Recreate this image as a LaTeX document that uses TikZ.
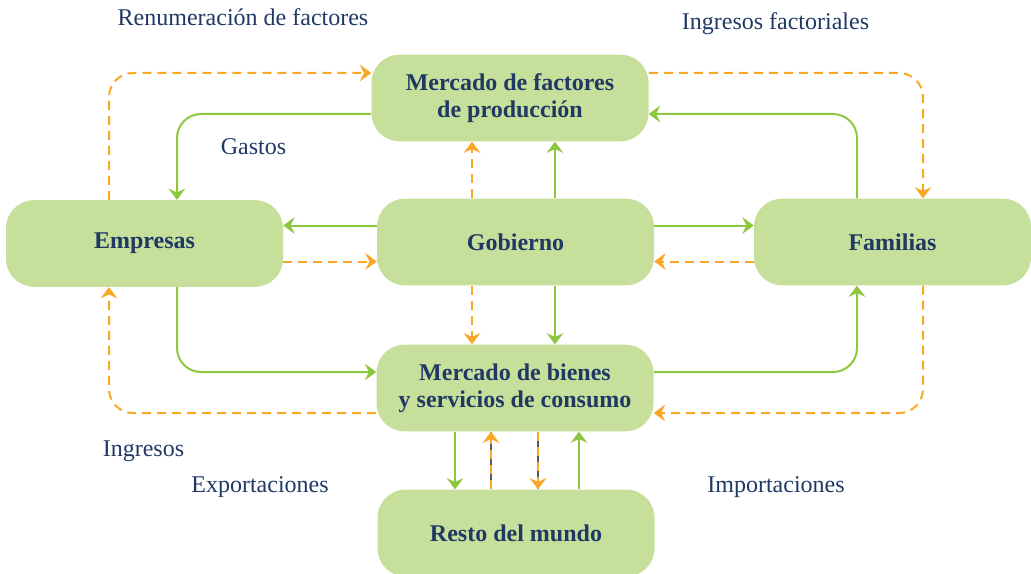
\documentclass[tikz,border=0pt]{standalone}
\usepackage{fontspec}
\setmainfont{Liberation Serif}
\usetikzlibrary{arrows.meta,calc}
\definecolor{boxfill}{HTML}{C6E09C}
\definecolor{gline}{HTML}{8DC63F}
\definecolor{oline}{HTML}{F9A825}
\definecolor{navy}{HTML}{1F3864}
\definecolor{grayline}{HTML}{5A5A5A}
\begin{document}
\begin{tikzpicture}[x=0.75pt,y=-0.75pt,
  box/.style={rectangle, rounded corners=21pt, fill=boxfill, minimum width=207.75pt, minimum height=65pt, inner sep=0pt, align=center, font=\fontsize{18}{20.5}\selectfont\bfseries, text=navy},
  lbl/.style={anchor=base, font=\fontsize{18}{20}\selectfont, text=navy, inner sep=0pt},
  tip/.style={-{Stealth[length=8.5pt,width=12.5pt,inset=3pt]}},
  garr/.style={tip, draw=gline, line width=1.5pt, rounded corners=18pt},
  oarr/.style={tip, draw=oline, line width=1.5pt, dash pattern=on 6.75pt off 4.5pt, rounded corners=18pt},
  grayln/.style={draw=grayline, line width=1.1pt}]
\useasboundingbox (0,0) rectangle (1031,574);
% boxes
\node[box] (fac) at (510,98) {Mercado de factores\\de producción};
\node[box] (emp) at (144.5,243.5) {Empresas};
\node[box] (gob) at (515.5,242) {Gobierno};
\node[box] (fam) at (892.5,242) {Familias};
\node[box] (bie) at (515,388) {Mercado de bienes\\y servicios de consumo};
\node[box] (res) at (516,533) {Resto del mundo};
% Gobierno side connectors
\draw[garr] ($(gob.west)+(0,-16.5)$) -- ($(emp.east)+(0,-18)$);
\draw[oarr] ($(emp.east)+(0,18)$) -- ($(gob.west)+(0,19.5)$);
\draw[garr] ($(gob.east)+(0,-16.5)$) -- ($(fam.west)+(0,-16.5)$);
\draw[oarr] ($(fam.west)+(0,19.5)$) -- ($(gob.east)+(0,19.5)$);
% Gobierno vertical connectors
\draw[garr] ($(gob.north)+(39.5,0)$) -- ($(fac.south)+(45,0)$);
\draw[oarr] ($(gob.north)+(-43.5,0)$) -- ($(fac.south)+(-38,0)$);
\draw[garr] ($(gob.south)+(39.5,0)$) -- ($(bie.north)+(40,0)$);
\draw[oarr] ($(gob.south)+(-43.5,0)$) -- ($(bie.north)+(-43,0)$);
% outer loops
\draw[garr] ($(fac.west)+(0,16)$) -| ($(emp.north)+(32.5,0)$);
\draw[oarr] ($(emp.north)+(-35.5,0)$) |- ($(fac.west)+(0,-25)$);
\draw[garr] ($(fam.north)+(-35.5,0)$) |- ($(fac.east)+(0,16)$);
\draw[oarr] ($(fac.east)+(0,-25)$) -| ($(fam.north)+(30.5,0)$);
\draw[garr] ($(emp.south)+(32.5,0)$) |- ($(bie.west)+(0,-16)$);
\draw[oarr] ($(bie.west)+(0,25)$) -| ($(emp.south)+(-35.5,0)$);
\draw[garr] ($(bie.east)+(0,-16)$) -| ($(fam.south)+(-35.5,0)$);
\draw[oarr] ($(fam.south)+(30.5,0)$) |- ($(bie.east)+(0,25)$);
% bottom connectors
\draw[garr] ($(bie.south)+(-60,0)$) -- ($(res.north)+(-61,0)$);
\draw[grayln] ($(res.north)+(-25,0)$) -- ($(bie.south)+(-24,0)$);
\draw[oarr] ($(res.north)+(-25,0)$) -- ($(bie.south)+(-24,0)$);
\draw[grayln] ($(bie.south)+(23,0)$) -- ($(res.north)+(22,0)$);
\draw[oarr] ($(bie.south)+(23,0)$) -- ($(res.north)+(22,0)$);
\draw[garr] ($(res.north)+(63,0)$) -- ($(bie.south)+(64,0)$);
% labels
\node[lbl] (l1) at (243,26) {Renumeración de factores};
\node[lbl] (l2) at (775.5,30) {Ingresos factoriales};
\node[lbl] (l3) at (253.5,155) {Gastos};
\node[lbl] (l4) at (143.5,456) {Ingresos};
\node[lbl] (l5) at (260,492) {Exportaciones};
\node[lbl] (l6) at (776,492) {Importaciones};
\end{tikzpicture}
\end{document}
